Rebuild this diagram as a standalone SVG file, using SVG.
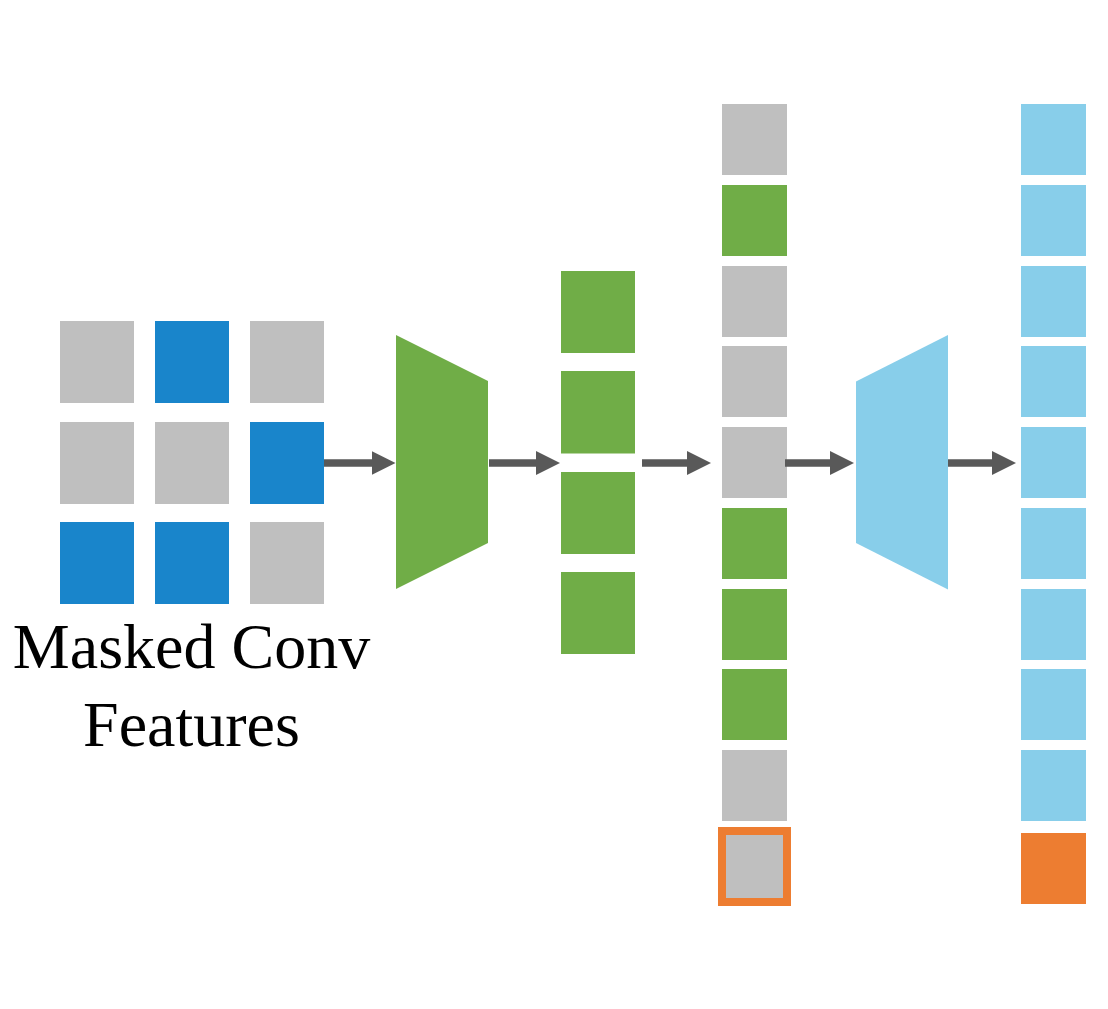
<svg xmlns="http://www.w3.org/2000/svg" width="1108" height="1009" viewBox="0 0 1108 1009">
<style>
.g{fill:#BFBFBF}
.b{fill:#1985CB}
.gr{fill:#70AD47}
.lb{fill:#88CEEA}
.o{fill:#ED7D31}
.arr{stroke:#595959;stroke-width:7.5;fill:none}
.lbl{font-family:"Liberation Serif","Times New Roman",serif;font-size:64px;fill:#000;text-anchor:middle}
</style>
<defs>
<marker id="ah" markerUnits="userSpaceOnUse" viewBox="0 0 24 24" markerWidth="24" markerHeight="24" refX="12" refY="12" orient="auto">
<path d="M0,0 L24,12 L0,24 Z" fill="#595959"/>
</marker>
</defs>
<rect width="1108" height="1009" fill="#fff"/>

<g id="masked-grid">
<rect class="g" x="60" y="321" width="74" height="82"/>
<rect class="b" x="155" y="321" width="74" height="82"/>
<rect class="g" x="250" y="321" width="74" height="82"/>
<rect class="g" x="60" y="422" width="74" height="82"/>
<rect class="g" x="155" y="422" width="74" height="82"/>
<rect class="b" x="250" y="422" width="74" height="82"/>
<rect class="b" x="60" y="522" width="74" height="82"/>
<rect class="b" x="155" y="522" width="74" height="82"/>
<rect class="g" x="250" y="522" width="74" height="82"/>
<text class="lbl" x="191.5" y="668">Masked Conv</text>
<text class="lbl" x="191.5" y="746">Features</text>
</g>

<g id="encoder">
<polygon fill="#70AD47" points="396,335 488,381 488,543 396,589"/>
</g>

<g id="encoded-tokens">
<rect class="gr" x="561" y="271" width="74" height="82"/>
<rect class="gr" x="561" y="371" width="74" height="82.5"/>
<rect class="gr" x="561" y="472" width="74" height="82"/>
<rect class="gr" x="561" y="572" width="74" height="82"/>
</g>

<g id="full-tokens">
<rect class="g" x="722" y="104" width="65" height="71"/>
<rect class="gr" x="722" y="185" width="65" height="71"/>
<rect class="g" x="722" y="266" width="65" height="71"/>
<rect class="g" x="722" y="346" width="65" height="71"/>
<rect class="g" x="722" y="427" width="65" height="71"/>
<rect class="gr" x="722" y="508" width="65" height="71"/>
<rect class="gr" x="722" y="589" width="65" height="71"/>
<rect class="gr" x="722" y="669" width="65" height="71"/>
<rect class="g" x="722" y="750" width="65" height="71"/>
<rect class="g" x="722" y="831" width="65" height="71" stroke="#ED7D31" stroke-width="8"/>
</g>

<g id="decoder">
<polygon fill="#88CEEA" points="856,381.5 948,335 948,589.5 856,543"/>
</g>

<g id="output-tokens">
<rect class="lb" x="1021" y="104" width="65" height="71"/>
<rect class="lb" x="1021" y="185" width="65" height="71"/>
<rect class="lb" x="1021" y="266" width="65" height="71"/>
<rect class="lb" x="1021" y="346" width="65" height="71"/>
<rect class="lb" x="1021" y="427" width="65" height="71"/>
<rect class="lb" x="1021" y="508" width="65" height="71"/>
<rect class="lb" x="1021" y="589" width="65" height="71"/>
<rect class="lb" x="1021" y="669" width="65" height="71"/>
<rect class="lb" x="1021" y="750" width="65" height="71"/>
<rect class="o" x="1021" y="833" width="65" height="71"/>
</g>

<g id="connectors">
<line class="arr" x1="324" y1="463" x2="383.5" y2="463" marker-end="url(#ah)"/>
<line class="arr" x1="489" y1="463" x2="548" y2="463" marker-end="url(#ah)"/>
<line class="arr" x1="642" y1="463" x2="699" y2="463" marker-end="url(#ah)"/>
<line class="arr" x1="785" y1="463" x2="842" y2="463" marker-end="url(#ah)"/>
<line class="arr" x1="948" y1="463" x2="1004" y2="463" marker-end="url(#ah)"/>
</g>
</svg>
